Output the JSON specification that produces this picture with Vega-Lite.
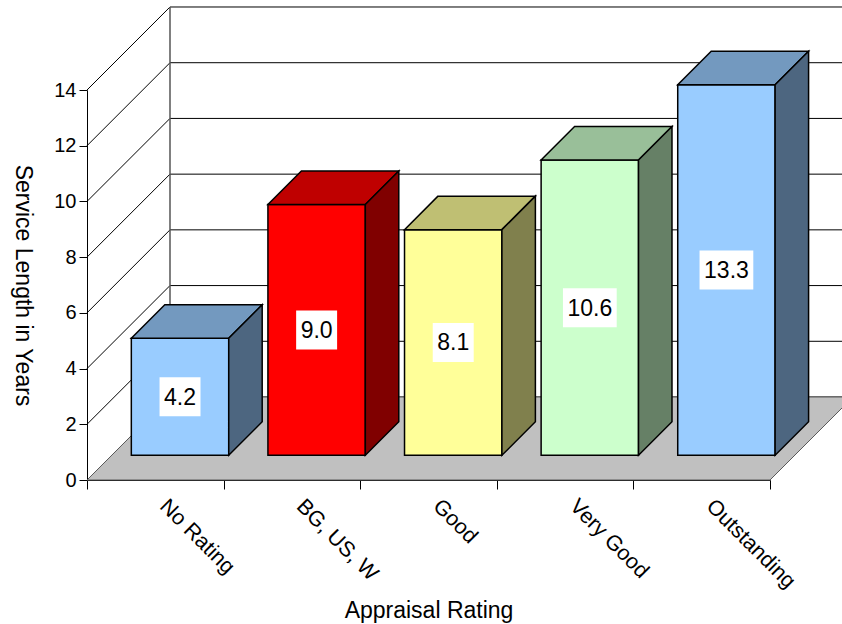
{
  "$schema": "https://vega.github.io/schema/vega-lite/v6.json",
  "width": 683,
  "height": 390,
  "autosize": {"type": "none"},
  "padding": {"left": 87, "top": 90, "right": 72, "bottom": 144},
  "background": "white",
  "config": {
    "font": "Liberation Sans",
    "view": {"stroke": null},
    "axis": {
      "grid": false,
      "domainColor": "black",
      "tickColor": "black",
      "labelColor": "black",
      "titleColor": "black",
      "titleFontWeight": "normal",
      "zindex": 1
    }
  },
  "datasets": {
    "ratings": [
      {"rating": "No Rating", "years": 4.2},
      {"rating": "BG, US, W", "years": 9.0},
      {"rating": "Good", "years": 8.1},
      {"rating": "Very Good", "years": 10.6},
      {"rating": "Outstanding", "years": 13.3}
    ],
    "ticks": [{"v": 0}, {"v": 2}, {"v": 4}, {"v": 6}, {"v": 8}, {"v": 10}, {"v": 12}, {"v": 14}],
    "planes": [{"plane": "front"}, {"plane": "back"}]
  },
  "resolve": {"scale": {"fill": "independent"}},
  "layer": [
    {
      "description": "back wall gridlines",
      "data": {"name": "ticks"},
      "transform": [{"calculate": "datum.v + 2.9795", "as": "by"}],
      "mark": {"type": "rule", "color": "black", "strokeWidth": 1},
      "encoding": {
        "x": {"datum": 0.6076, "type": "quantitative", "scale": {"domain": [0, 5], "nice": false, "zero": false},
          "axis": {"values": [0, 1, 2, 3, 4, 5], "labels": false, "tickSize": 9, "title": "Appraisal Rating",
            "titleFontSize": 23, "titleX": 341.5, "titleY": 137, "titleBaseline": "alphabetic", "titleAlign": "center"}},
        "x2": {"datum": 5.6076},
        "y": {"field": "by", "type": "quantitative", "scale": {"domain": [0, 14], "nice": false, "zero": false},
          "axis": {"values": [0, 2, 4, 6, 8, 10, 12, 14], "tickSize": 8, "labelFontSize": 20, "labelPadding": 3,
            "title": "Service Length in Years", "titleFontSize": 23, "titleAngle": 90, "titleX": -65, "titleY": 195,
            "titleAlign": "center", "titleBaseline": "middle"}}
      }
    },
    {
      "description": "side wall diagonals",
      "data": {"name": "ticks"},
      "transform": [{"calculate": "datum.v + 2.9795", "as": "by"}],
      "mark": {"type": "rule", "color": "black", "strokeWidth": 1},
      "encoding": {
        "x": {"datum": 0, "type": "quantitative"},
        "x2": {"datum": 0.6076},
        "y": {"field": "v", "type": "quantitative"},
        "y2": {"field": "by"}
      }
    },
    {
      "description": "back wall left edge",
      "data": {"name": "ticks"},
      "transform": [{"filter": "datum.v === 0"}],
      "mark": {"type": "rule", "color": "#555555", "strokeWidth": 1.5},
      "encoding": {
        "x": {"datum": 0.6076, "type": "quantitative"},
        "y": {"datum": 2.9795, "type": "quantitative"},
        "y2": {"datum": 16.9795}
      }
    },
    {
      "description": "floor",
      "data": {"name": "planes"},
      "transform": [
        {"calculate": "datum.plane === 'back' ? 1 : 0", "as": "k"},
        {"calculate": "datum.k * 2.9795", "as": "fy"},
        {"calculate": "datum.k * 0.6076", "as": "fx0"},
        {"calculate": "5 + datum.k * 0.6076", "as": "fx1"}
      ],
      "mark": {"type": "area", "orient": "horizontal", "fill": "#C0C0C0", "stroke": "#5A5A5A", "strokeWidth": 1},
      "encoding": {
        "y": {"field": "fy", "type": "quantitative"},
        "x": {"field": "fx0", "type": "quantitative", "stack": null},
        "x2": {"field": "fx1"}
      }
    },
    {
      "description": "bar front faces",
      "data": {"name": "ratings"},
      "transform": [
        {"window": [{"op": "row_number", "as": "i"}]},
        {"calculate": "datum.i - 0.5 + 0.181", "as": "cx"},
        {"calculate": "datum.cx - 0.3565", "as": "x0"},
        {"calculate": "datum.cx + 0.3565", "as": "x1"},
        {"calculate": "0.887", "as": "yb"},
        {"calculate": "0.887 + datum.years", "as": "yt"}
      ],
      "mark": {"type": "rect", "stroke": "black", "strokeWidth": 1.5},
      "encoding": {
        "x": {"field": "x0", "type": "quantitative"},
        "x2": {"field": "x1"},
        "y": {"field": "yb", "type": "quantitative"},
        "y2": {"field": "yt"},
        "fill": {"field": "rating", "type": "nominal", "legend": null,
          "scale": {"domain": ["No Rating", "BG, US, W", "Good", "Very Good", "Outstanding"],
            "range": ["#99CCFF", "#FF0000", "#FFFF99", "#CCFFCC", "#99CCFF"]}}
      }
    },
    {
      "description": "bar top faces",
      "data": {"name": "ratings"},
      "transform": [
        {"window": [{"op": "row_number", "as": "i"}]},
        {"calculate": "datum.i - 0.5 + 0.181", "as": "cx"},
        {"calculate": "0.887 + datum.years", "as": "yt"},
        {"calculate": "[0, 1]", "as": "k"},
        {"flatten": ["k"]},
        {"calculate": "datum.yt + datum.k * 1.2026", "as": "ty"},
        {"calculate": "datum.cx - 0.3565 + datum.k * 0.245", "as": "tx0"},
        {"calculate": "datum.cx + 0.3565 + datum.k * 0.245", "as": "tx1"}
      ],
      "mark": {"type": "area", "orient": "horizontal", "stroke": "black", "strokeWidth": 1.5, "strokeJoin": "miter"},
      "encoding": {
        "y": {"field": "ty", "type": "quantitative"},
        "x": {"field": "tx0", "type": "quantitative", "stack": null},
        "x2": {"field": "tx1"},
        "fill": {"field": "rating", "type": "nominal", "legend": null,
          "scale": {"domain": ["No Rating", "BG, US, W", "Good", "Very Good", "Outstanding"],
            "range": ["#7399BF", "#BF0000", "#BFBF73", "#99BF99", "#7399BF"]}}
      }
    },
    {
      "description": "bar side faces",
      "data": {"name": "ratings"},
      "transform": [
        {"window": [{"op": "row_number", "as": "i"}]},
        {"calculate": "datum.i - 0.5 + 0.181", "as": "cx"},
        {"calculate": "0.887", "as": "yb"},
        {"calculate": "0.887 + datum.years", "as": "yt"},
        {"calculate": "[0, 1]", "as": "k"},
        {"flatten": ["k"]},
        {"calculate": "datum.cx + 0.3565 + datum.k * 0.245", "as": "sx"},
        {"calculate": "datum.yb + datum.k * 1.2026", "as": "sy0"},
        {"calculate": "datum.yt + datum.k * 1.2026", "as": "sy1"}
      ],
      "mark": {"type": "area", "orient": "vertical", "stroke": "black", "strokeWidth": 1.5, "strokeJoin": "miter"},
      "encoding": {
        "x": {"field": "sx", "type": "quantitative"},
        "y": {"field": "sy1", "type": "quantitative", "stack": null},
        "y2": {"field": "sy0"},
        "fill": {"field": "rating", "type": "nominal", "legend": null,
          "scale": {"domain": ["No Rating", "BG, US, W", "Good", "Very Good", "Outstanding"],
            "range": ["#4D6680", "#800000", "#80804D", "#668066", "#4D6680"]}}
      }
    },
    {
      "description": "value label backgrounds",
      "data": {"name": "ratings"},
      "transform": [
        {"window": [{"op": "row_number", "as": "i"}]},
        {"calculate": "datum.i - 0.5 + 0.181", "as": "cx"},
        {"calculate": "format(datum.years, '.1f')", "as": "label"},
        {"calculate": "0.887 + datum.years / 2", "as": "ly"},
        {"calculate": "(9 + 23 * (0.556 * (length(datum.label) - 1) + 0.278)) / 2 / 136.6", "as": "hw"},
        {"calculate": "datum.cx - datum.hw", "as": "lx0"},
        {"calculate": "datum.cx + datum.hw", "as": "lx1"},
        {"calculate": "datum.ly - 19.5 / 27.857", "as": "ly0"},
        {"calculate": "datum.ly + 19.5 / 27.857", "as": "ly1"}
      ],
      "mark": {"type": "rect", "fill": "white"},
      "encoding": {
        "x": {"field": "lx0", "type": "quantitative"},
        "x2": {"field": "lx1"},
        "y": {"field": "ly0", "type": "quantitative"},
        "y2": {"field": "ly1"}
      }
    },
    {
      "description": "value labels",
      "data": {"name": "ratings"},
      "transform": [
        {"window": [{"op": "row_number", "as": "i"}]},
        {"calculate": "datum.i - 0.5 + 0.181", "as": "cx"},
        {"calculate": "format(datum.years, '.1f')", "as": "label"},
        {"calculate": "0.887 + datum.years / 2", "as": "ly"}
      ],
      "mark": {"type": "text", "fontSize": 23, "align": "center", "baseline": "middle", "color": "black", "dy": 1},
      "encoding": {
        "x": {"field": "cx", "type": "quantitative"},
        "y": {"field": "ly", "type": "quantitative"},
        "text": {"field": "label"}
      }
    },
    {
      "description": "category labels",
      "data": {"name": "ratings"},
      "transform": [
        {"window": [{"op": "row_number", "as": "i"}]},
        {"calculate": "datum.i - 0.5", "as": "ci"}
      ],
      "mark": {"type": "text", "fontSize": 21.5, "angle": 45, "align": "left", "baseline": "top", "dx": 22, "dy": 0, "color": "black"},
      "encoding": {
        "x": {"field": "ci", "type": "quantitative"},
        "y": {"datum": 0, "type": "quantitative"},
        "text": {"field": "rating"}
      }
    }
  ]
}
